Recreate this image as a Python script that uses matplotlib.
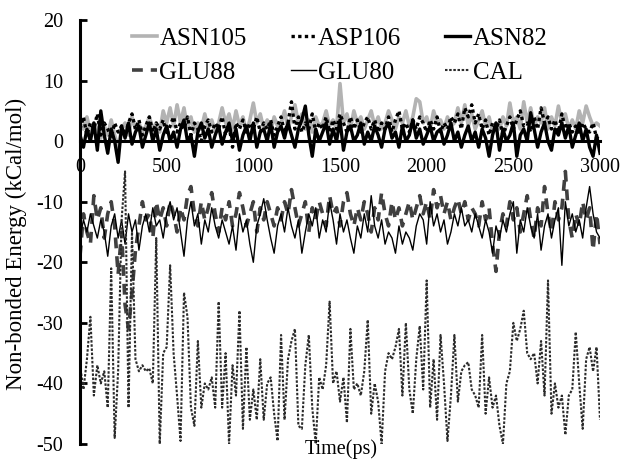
import numpy as np
import matplotlib
matplotlib.use("Agg")
import matplotlib.pyplot as plt

plt.rcParams['font.family'] = 'serif'
plt.rcParams['font.serif'] = ['Liberation Serif', 'DejaVu Serif']
plt.rcParams['axes.unicode_minus'] = False

# simulation time (ps), one frame every 20 ps
time_ps = np.arange(0, 3001, 20)

asn105 = [3, 2, 4, 1.5, 3, 2, 0.5, 2.5, 1, 3.5,
          1, -1, 2, 3, 1, 4, 2, 3, 1.5, 2.5,
          4, 2, 3, 1.5, 5, 3, 5.5, 2.5, 6, 3,
          5.5, 2, 4, 1.5, 3, 2, 4.5, 2, 3.5, 1.5,
          3, 5.5, 3, 4.5, 2, 5, 2.5, 4, 1.5, 3.5,
          6.3, 3, 4.5, 2, 3.5, 1.5, 4, 2.5, 3, 5,
          2, 4, 6, 3, 4.5, 2, 3.5, 1.5, 4, 2.5,
          3, 5, 2.5, 3.5, 2, 9.5, 3, 4.5, 2, 5,
          3, 4, 2, 3.5, 5, 2.5, 4, 2, 3, 5,
          3.5, 2, 4, 3, 5, 2.5, 4, 7, 6.5, 3,
          4, 2, 5, 3, 3.5, 2, 4, 2.5, 3, 5.5,
          3, 6, 2.5, 4.5, 2, 3.5, 5, 2.5, 4, 1.5,
          3, 2, 4, 2.5, 6.3, 3, 4, 2, 6.5, 3,
          5.5, 2.5, 4, 3, 5.5, 2, 4, 2.5, 5.8, 3,
          4.5, 2, 3.5, 2, 5, 3, 5.8, 4, 2.5, 3,
          2.5]

asp106 = [2, 4, 1, 3, 2, 4.5, 1, 3, 2, 0.5,
          3, 1.5, 2.5, 1, 3, 4.5, 2, 3.5, 1, 2.5,
          4, 1.5, 3, 2, 3.5, 1, 2.5, 4, 1.5, 3,
          2, 4, 1, 3, 2, 0, 2.5, 3.5, 1.5, 3,
          2, 4, 1, 2.5, -1, 3, 2, 3.5, 1.5, 3,
          2, 4, 1.5, 3, 2, 3.5, 1, 2.5, 4, 1.5,
          3, 6.5, 2, 4, 1.5, 3, 2, 4.5, 1.5, 3,
          2, 4, 1.5, 3.5, 2, 4.5, 3, 1.5, 4, 2,
          3.5, 1.5, 3, 4, 2, 3.5, 1.5, 3, 2, 4,
          1.5, 3.5, 5, 2, 3, 1.5, 3.5, 2, 4, 3,
          1.5, 3.5, 2, 4, 1.5, 3, 2, 4, 3, 4.5,
          2, 5.5, 4, 6, 3, 4.5, 2, 3.5, 1, 3,
          2, 3.5, 1, 2.5, 4, 2, 3.5, 5, 2.5, 3,
          1.5, 4, 2, 5.5, 3, 4, 2, 3.5, 1.5, 4.5,
          2, 3, 1.5, 2.5, 1, 3, 2, 1.5, 3, 0.5,
          1]

asn82 = [1, -1, 2, 0, 3, -1.5, 5, 1, -2, 2,
         0, -3.5, 2.5, 0.5, 3, -0.5, 1.5, 2.5, -1, 1,
         3, 0, 2, -1.5, 1, 2.5, 0, 1.5, -1, 2,
         3.5, 0, 1, -2.5, 1.5, 3, 0.5, 2, -1, 1,
         2.5, -0.5, 1.5, 3, 0, 2, -1.5, 1, 2.5, 0,
         3, -1, 1.5, 2, 0, 3, -1, 1.5, 2.5, 0.5,
         3, 1, -1, 2, 3.5, 5.8, 1, -2.5, 2, 0,
         1.5, 3, -0.5, 2, 0, 3.5, -1.5, 1.5, 2.5, 0,
         1, 3, -0.5, 1.5, 0, 2.5, 1, -1, 2, 3,
         0.5, 1.5, -1, 2.5, 0, 1, 3.5, 0.5, 2, -0.5,
         1, 2.5, 0, 1.5, 2, -0.5, 1, 3, 0, 1.5,
         -1, 1, 2.5, 0, 1.5, -1, 2, 0.5, -2.5, 1,
         3, -1.5, 2, 0, 1, 3, -2.5, 1, 2, 0,
         4.7, 2, -1, 1.5, 3, 0, -1.5, 2, 1, 3,
         0.5, 2.5, -1, 1, 3, 0, 2, -1, -2.5, 1,
         -2]

glu88 = [-19, -12, -15, -17, -9, -13, -11, -16, -12, -10,
         -14, -22, -15, -27, -31, -25, -18, -14, -10, -13,
         -12, -16, -10, -13, -11, -14, -10, -12, -15, -11,
         -13, -9, -7.5, -12, -14, -10, -13, -11, -8.5, -12,
         -15, -11, -13, -10, -14, -12, -8.5, -11, -14, -12,
         -10, -15, -11, -13, -10, -12, -14, -11, -13, -10,
         -12, -8, -11, -14, -12, -10, -15, -11, -13, -10,
         -12, -14, -9, -12, -11, -14, -10, -8.5, -12, -14,
         -11, -13, -10, -12, -15, -11, -13, -8.5, -12, -14,
         -10, -13, -11, -14, -12, -10, -13, -11, -9, -12,
         -10, -13, -8, -11, -9, -12, -10, -13, -11, -9.5,
         -12, -10, -13, -11, -12, -14, -10, -13, -11, -17,
         -21.5, -15, -12, -14, -10, -13, -11, -15, -12, -9,
         -13, -16, -11, -14, -7.5, -12, -15, -10, -13, -11,
         -5, -13, -16, -12, -14, -10, -13, -11, -18, -12,
         -17]

glu80 = [-16, -13, -15, -12, -14, -16, -13, -15, -19, -14,
         -12, -16, -13, -17, -12, -15, -13, -18, -14, -12,
         -15, -11, -14, -13, -16, -12, -10, -13, -11, -15,
         -19, -13, -10, -14, -12, -17, -13, -15, -11, -14,
         -16, -13, -15, -17, -14, -18, -12, -15, -13, -17,
         -20, -14, -12, -9.5, -13, -16, -18.5, -14, -12, -15,
         -11, -14, -16, -13, -18.5, -15, -12, -14, -11, -16,
         -13, -15, -10, -13, -17, -12, -15, -13, -16, -18.5,
         -14, -16, -12, -15, -9, -14, -16, -13, -17, -15,
         -16, -18.5, -14, -17, -15, -16, -18, -14, -12, -13,
         -17, -10, -14, -12, -15, -13, -17, -15, -12, -14,
         -11, -14, -13, -15, -12, -14, -16, -13, -15, -18.5,
         -14, -16, -13, -15, -12, -10, -18.5, -13, -15, -11,
         -14, -16, -12, -18, -14, -12, -16, -13, -11, -20.5,
         -10, -14, -12, -15, -13, -16, -11, -7.5, -12, -15,
         -16]

cal = [-37, -41, -36, -29, -42, -37, -40, -38, -44, -21,
       -49, -38, -13, -5, -44, -15, -36, -38, -37, -38,
       -37.5, -40, -16, -50, -35, -34, -20.5, -35, -42, -49.5,
       -25, -29, -44, -47, -33, -44, -40, -41, -39, -44,
       -26.5, -44, -35, -50, -37, -42, -28, -47.5, -34, -46,
       -41, -46, -36, -46, -40, -39, -45, -49.5, -32, -46,
       -36, -33, -31, -47, -47.5, -37, -32, -44, -50, -39,
       -41, -37, -26.5, -40, -38, -43, -39, -46.5, -31, -41,
       -40, -42, -38, -29.5, -45, -40, -43, -50, -38, -35,
       -36, -34, -31, -42, -30, -41, -45, -36, -30.5, -41,
       -23, -44, -36, -46, -32, -40, -49.5, -42, -32, -43,
       -38, -37, -36.5, -41, -42, -44, -32, -45, -39, -44,
       -42, -47, -50, -40, -38, -30, -33, -31, -28, -35,
       -36, -35, -40, -33, -42, -23, -45, -40, -44, -42,
       -48.5, -42, -41, -31.5, -40, -47.5, -36, -34, -38, -34,
       -46]

fig = plt.figure(figsize=(6.23, 4.59), dpi=100)
ax = fig.add_axes([0.1284, 0.0327, 0.8347, 0.9237])

l1, = ax.plot(time_ps, asn105, color='#b3b3b3', lw=2.6, label='ASN105')
l2, = ax.plot(time_ps, asp106, color='black', lw=2.4, ls=(0, (1, 1)), label='ASP106')
l3, = ax.plot(time_ps, asn82, color='black', lw=2.4, label='ASN82')
l4, = ax.plot(time_ps, glu88, color='#404040', lw=2.6, ls=(0, (3, 2.2)), label='GLU88')
l5, = ax.plot(time_ps, glu80, color='black', lw=1.0, label='GLU80')
l6, = ax.plot(time_ps, cal, color='#2b2b2b', lw=1.5, ls=(0, (1.2, 0.8)), label='CAL')

ax.set_xlim(0, 3000)
ax.set_ylim(-50, 20)
ax.set_xticks(range(0, 3001, 500))
ax.set_yticks(range(-50, 21, 10))

ax.spines['top'].set_visible(False)
ax.spines['right'].set_visible(False)
ax.spines['bottom'].set_position(('data', 0))
ax.spines['bottom'].set_linewidth(2.2)
ax.spines['left'].set_linewidth(2.2)
ax.spines['bottom'].set_zorder(5)

ax.tick_params(axis='x', length=0, pad=12, labelsize=14.5)
ax.tick_params(axis='y', direction='in', length=5, width=2, pad=12, labelsize=14.5)

# legend laid out row by row: matplotlib fills columns first
handles = [l1, l4, l2, l5, l3, l6]
ax.legend(handles, [h.get_label() for h in handles], ncol=3, loc='upper left',
          bbox_to_anchor=(0.1, 0.982), frameon=False, fontsize=18,
          handlelength=1.0, handletextpad=0.1, columnspacing=1.75,
          labelspacing=0.45, borderpad=0, borderaxespad=0)

fig.text(341 / 623, 1 - 449 / 459, 'Time(ps)', fontsize=14.5, ha='center', va='center')
fig.text(16 / 623, 1 - 244 / 459, 'Non-bonded Energy (kCal/mol)', fontsize=16.5,
         rotation=90, ha='center', va='center')

fig.savefig('out.png', dpi=100)
